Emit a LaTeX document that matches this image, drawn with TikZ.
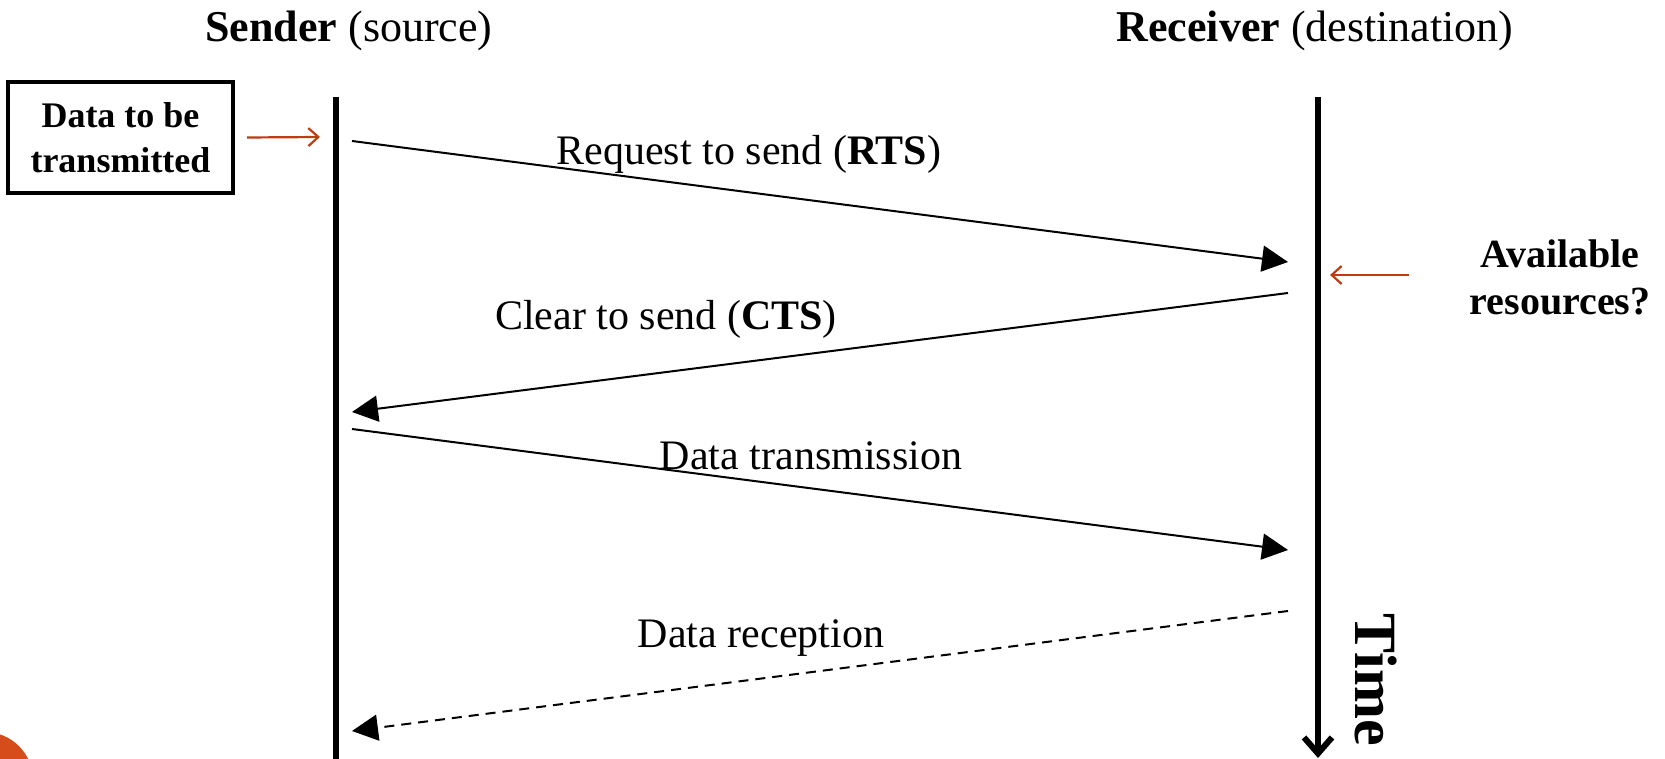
\documentclass[tikz,border=0pt]{standalone}
\usepackage{fontspec}
\setmainfont{Liberation Serif}
\usetikzlibrary{arrows.meta}
\definecolor{rust}{RGB}{190,60,20}
\definecolor{accent}{RGB}{214,76,26}
\begin{document}
\begin{tikzpicture}[x=0.5pt,y=-0.5pt,
  life/.style={line width=3pt},
  msg/.style={line width=1pt,-{Triangle[length=13pt,width=13pt]}},
  note/.style={draw=rust,line width=1.1pt,-{Straight Barb[length=5pt,width=9pt]}},
  lbl/.style={font=\fontsize{21}{25}\selectfont,inner sep=0pt},
  hdr/.style={font=\fontsize{22}{26}\selectfont,inner sep=0pt},
  side/.style={font=\fontsize{20}{23.5}\selectfont\bfseries,align=center,inner sep=0pt}
]
\useasboundingbox (0,0) rectangle (1665,759);
% orange corner
\fill[accent] (-15,780) circle [radius=48];
% headers
\node[hdr] (sender) at (349,31) {\textbf{Sender} (source)};
\node[hdr] (receiver) at (1315,31) {\textbf{Receiver} (destination)};
% lifelines
\coordinate (s0) at (336,97);
\coordinate (s1) at (336,762);
\coordinate (r0) at (1318,97);
\coordinate (r1) at (1318,758);
\draw[life] (s0) -- (s1);
\draw[life,-{Straight Barb[length=8pt,width=14pt]}] (r0) -- (r1);
\node[rotate=-90,font=\fontsize{30}{32}\selectfont\bfseries,inner sep=0pt] (time) at (1376,680) {Time};
% data box
\node[draw,line width=2pt,minimum width=112.5pt,minimum height=55.5pt,inner sep=0pt,
      font=\fontsize{18}{22.5}\selectfont\bfseries,align=center] (box) at (120.5,137.5) {Data to be\\transmitted};
\coordinate (boxarr) at (320,137);
\draw[note] (box.east) ++(12,0) coordinate (boxstart) -- (boxarr);
% available resources
\node[side] (avail) at (1560,277) {Available\\resources?};
\coordinate (availstart) at (1409,275);
\coordinate (availend) at (1330,275);
\draw[note] (availstart) -- (availend);
% messages
\coordinate (a1) at (352,141);  \coordinate (b1) at (1288,262);
\coordinate (a2) at (1288,293); \coordinate (b2) at (352,412);
\coordinate (a3) at (352,429);  \coordinate (b3) at (1288,550);
\coordinate (a4) at (1288,611); \coordinate (b4) at (352,731);
\draw[msg] (a1) -- (b1);
\draw[msg] (a2) -- (b2);
\draw[msg] (a3) -- (b3);
\draw[msg,dash pattern=on 5pt off 3.5pt] (a4) -- (b4);
\node[lbl] (rts) at (749,154) {Request to send (\textbf{RTS})};
\node[lbl] (cts) at (666,319) {Clear to send (\textbf{CTS})};
\node[lbl] (dtx) at (811,456) {Data transmission};
\node[lbl] (drx) at (761,638) {Data reception};
\end{tikzpicture}
\end{document}
